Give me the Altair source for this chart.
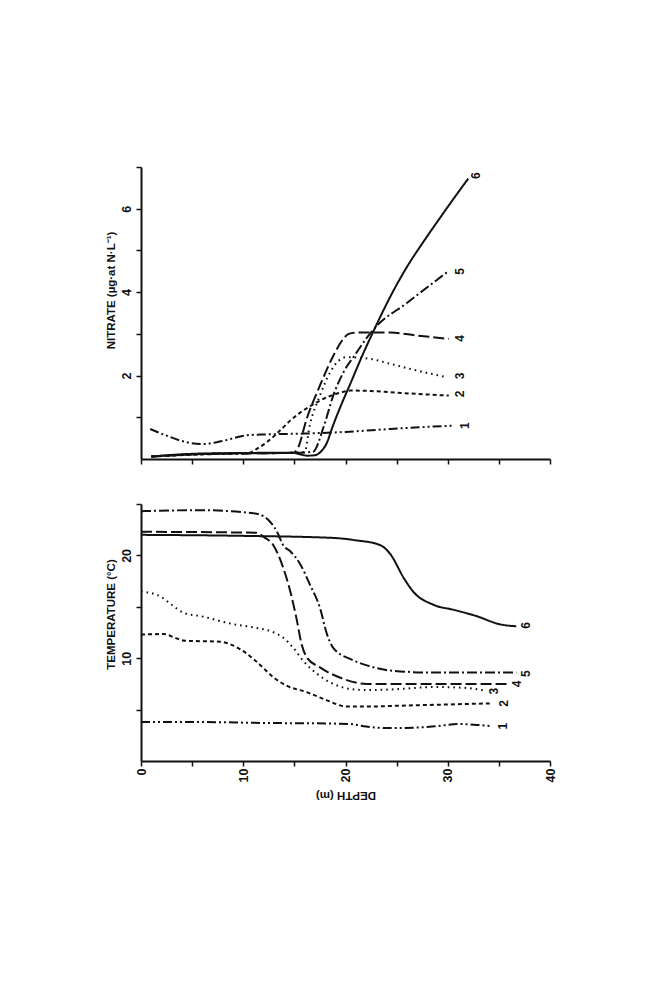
"""Nitrate and temperature profiles against depth, drawn turned on its side like the scan"""

import altair as alt
import pandas as pd

PLOT_WIDTH = 409
FONT = "Liberation Sans"
INK = "#111111"

CURVES = ["1", "2", "3", "4", "5", "6"]
DASHES = [[9, 3, 2, 3, 2, 3], [4, 3], [1.6, 4], [11, 4], [10, 3, 2, 3], [1, 0]]

# nitrate (ug-at N/L) against depth (m)
n1_depth = [0.9, 2.5, 4.5, 6.1, 8.1, 10.4, 12.3, 16.0, 20.0, 24.4, 28.0, 30.6]
n1_value = [0.72, 0.56, 0.40, 0.36, 0.44, 0.57, 0.59, 0.61, 0.65, 0.72, 0.77, 0.80]
n2_depth = [1.0, 6.0, 10.4, 11.5, 12.3, 13.5, 14.6, 15.5, 16.5, 17.5, 18.5, 19.5, 20.5, 22.5, 24.4, 27.0, 30.1]
n2_value = [0.06, 0.11, 0.14, 0.27, 0.40, 0.66, 0.92, 1.10, 1.26, 1.40, 1.51, 1.59, 1.64, 1.63, 1.60, 1.56, 1.52]
n3_depth = [1.0, 6.0, 14.9, 16.0, 16.5, 17.5, 18.5, 19.3, 20.1, 22.4, 24.4, 27.0, 29.9]
n3_value = [0.06, 0.12, 0.15, 0.17, 0.80, 1.52, 2.08, 2.35, 2.44, 2.40, 2.28, 2.12, 1.96]
n4_depth = [1.0, 6.0, 14.9, 15.3, 16.2, 17.5, 18.8, 19.7, 20.3, 21.0, 24.4, 27.0, 30.1]
n4_value = [0.06, 0.12, 0.15, 0.24, 0.96, 1.76, 2.47, 2.85, 3.00, 3.03, 3.03, 2.96, 2.88]
n5_depth = [1.0, 6.0, 14.9, 16.8, 17.9, 18.8, 19.8, 21.0, 22.0, 22.9, 26.0, 30.1]
n5_value = [0.06, 0.12, 0.15, 0.17, 0.80, 1.52, 2.08, 2.52, 2.88, 3.15, 3.74, 4.51]
n6_depth = [1.1, 5.8, 14.9, 15.6, 16.3, 17.0, 17.6, 18.2, 18.7, 19.5, 20.5, 21.5, 22.9, 23.7, 24.7, 26.0, 27.6, 29.3, 30.6, 32.0]
n6_value = [0.06, 0.13, 0.15, 0.11, 0.08, 0.09, 0.18, 0.40, 0.75, 1.25, 1.82, 2.40, 3.15, 3.56, 4.04, 4.60, 5.20, 5.80, 6.25, 6.72]

# temperature (deg C) against depth (m)
t1_depth = [0, 5, 12, 18, 20.5, 22, 24.5, 27, 29, 31, 33, 34.2]
t1_value = [3.8, 3.8, 3.7, 3.65, 3.6, 3.35, 3.2, 3.25, 3.4, 3.6, 3.5, 3.4]
t2_depth = [0, 2.2, 3.3, 4.3, 7.8, 9.1, 10.4, 11.7, 13.0, 14.3, 16.2, 18.2, 20.1, 22.1, 26.0, 30.0, 34.1]
t2_value = [12.3, 12.35, 12.0, 11.7, 11.6, 11.2, 10.4, 9.3, 8.1, 7.3, 6.7, 5.9, 5.3, 5.3, 5.4, 5.5, 5.6]
t3_depth = [0, 1.9, 3.0, 4.2, 5.8, 9.1, 11.0, 13.0, 13.9, 14.9, 15.9, 17.2, 18.8, 20.5, 22.1, 25.3, 28.6, 31.9, 33.8]
t3_value = [16.5, 16.0, 15.2, 14.4, 14.1, 13.3, 13.0, 12.5, 12.0, 11.0, 9.7, 8.5, 7.5, 7.0, 6.9, 7.0, 7.2, 7.1, 6.8]
t4_depth = [0, 11.3, 12.0, 13.0, 13.8, 14.6, 15.2, 15.7, 16.2, 17.5, 19.5, 22.1, 25.3, 30.0, 35.8]
t4_value = [22.3, 22.2, 21.8, 20.9, 19.1, 16.5, 13.9, 11.4, 10.1, 9.1, 8.1, 7.5, 7.5, 7.5, 7.5]
t5_depth = [0, 5.8, 11.0, 12.0, 12.6, 13.3, 13.9, 14.6, 15.6, 16.5, 17.5, 18.2, 18.8, 20.5, 22.1, 24.4, 28.6, 36.7]
t5_value = [24.3, 24.4, 24.1, 23.8, 23.3, 22.3, 21.0, 20.4, 19.1, 17.2, 14.9, 12.3, 11.0, 9.9, 9.3, 8.8, 8.6, 8.6]
t6_depth = [0, 10.0, 18.8, 20.8, 23.4, 24.4, 25.7, 26.6, 28.6, 30.6, 32.8, 35.1, 36.7]
t6_value = [22.0, 21.9, 21.7, 21.5, 21.0, 20.1, 17.8, 16.5, 15.2, 14.7, 14.1, 13.3, 13.1]

# where the curve numbers sit, in data units
n_label_depth = [31.7, 31.2, 31.2, 31.2, 31.2, 32.8]
n_label_value = [0.80, 1.56, 1.99, 2.89, 4.50, 6.79]
t_label_depth = [35.4, 35.5, 34.5, 36.8, 37.7, 37.7]
t_label_value = [3.4, 5.6, 6.8, 7.5, 8.5, 13.2]


def long_frame(depths, values):
    rows = []
    for name, d_list, v_list in zip(CURVES, depths, values):
        for order, (d, v) in enumerate(zip(d_list, v_list)):
            rows.append({"curve": name, "depth": d, "value": v, "order": order})
    return pd.DataFrame(rows)


def panel(data, labels, y_domain, y_ticks, label_every, y_title, title_y, height, show_depth):
    depth_axis = alt.Axis(
        values=list(range(0, 41, 5)),
        labels=show_depth,
        labelAngle=270,
        labelPadding=2,
        labelExpr="datum.value % 10 == 0 ? datum.label : ''",
        titleAngle=180,
        titleBaseline="bottom",
        titlePadding=8,
    )
    value_axis = alt.Axis(
        values=y_ticks,
        labelAngle=270,
        labelPadding=3,
        labelExpr=f"datum.value % {label_every} == 0 ? datum.label : ''",
        titlePadding=4,
        titleY=title_y,
    )
    x = alt.X("depth:Q", scale=alt.Scale(domain=[0, 40], nice=False), axis=depth_axis)
    x = x.title("DEPTH  (m)" if show_depth else None)
    y = alt.Y("value:Q", scale=alt.Scale(domain=y_domain, nice=False), axis=value_axis).title(y_title)

    lines = (
        alt.Chart(data)
        .mark_line(color=INK, strokeWidth=2, interpolate="monotone")
        .encode(
            x=x,
            y=y,
            strokeDash=alt.StrokeDash(
                "curve:N", scale=alt.Scale(domain=CURVES, range=DASHES), legend=None
            ),
            order="order:Q",
        )
    )
    numbers = (
        alt.Chart(labels)
        .mark_text(angle=270, font=FONT, fontSize=12, fontWeight="bold", color=INK)
        .encode(x="depth:Q", y="value:Q", text="curve:N")
    )
    return (lines + numbers).properties(width=PLOT_WIDTH, height=height)


nitrate = long_frame(
    [n1_depth, n2_depth, n3_depth, n4_depth, n5_depth, n6_depth],
    [n1_value, n2_value, n3_value, n4_value, n5_value, n6_value],
)
temperature = long_frame(
    [t1_depth, t2_depth, t3_depth, t4_depth, t5_depth, t6_depth],
    [t1_value, t2_value, t3_value, t4_value, t5_value, t6_value],
)
nitrate_labels = pd.DataFrame({"curve": CURVES, "depth": n_label_depth, "value": n_label_value})
temperature_labels = pd.DataFrame({"curve": CURVES, "depth": t_label_depth, "value": t_label_value})

upper = panel(
    nitrate, nitrate_labels, [0, 7], [1, 2, 3, 4, 5, 6, 7], 2,
    "NITRATE (µg·at N·L⁻¹)", 123, 292, False,
)
lower = panel(
    temperature, temperature_labels, [0, 25], [5, 10, 15, 20, 25], 10,
    "TEMPERATURE (°C)", 110, 257, True,
)

chart = (
    alt.vconcat(upper, lower, spacing=38)
    .properties(padding={"left": 96, "top": 158, "right": 10, "bottom": 10})
    .configure_view(stroke=None)
    .configure_axis(
        grid=False,
        domainColor=INK,
        domainWidth=2,
        tickColor=INK,
        tickWidth=1.5,
        tickSize=5,
        labelFont=FONT,
        labelFontSize=12.5,
        labelFontWeight="bold",
        labelColor=INK,
        titleFont=FONT,
        titleFontSize=11.5,
        titleFontWeight="bold",
        titleColor=INK,
    )
)

chart.save("out.html", embed_options={"renderer": "svg", "actions": False})
